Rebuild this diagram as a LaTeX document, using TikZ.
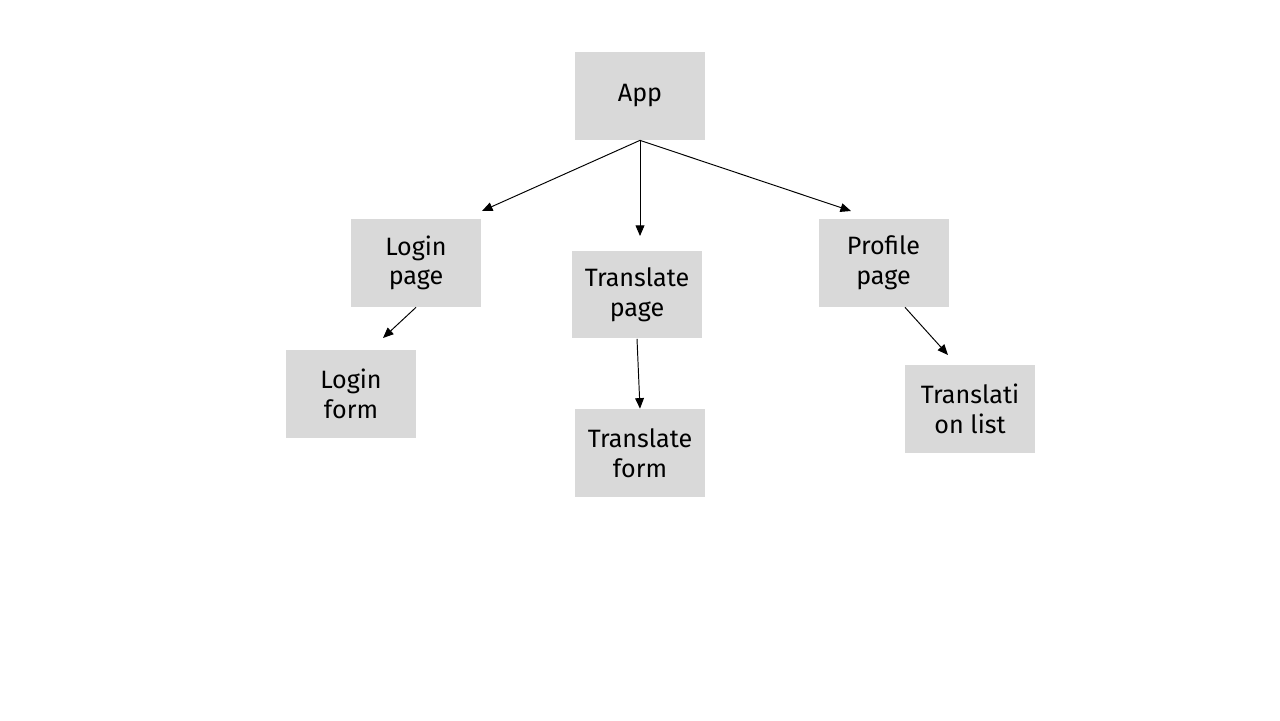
\documentclass[tikz,border=0pt]{standalone}
\usepackage{fontspec}
\setmainfont{Fira Sans}
\usetikzlibrary{positioning,arrows.meta}

\begin{document}
\begin{tikzpicture}[x=0.02cm, y=-0.02cm,
    box/.style = {fill=boxgray, minimum width=2.6cm, minimum height=1.76cm, align=center, inner sep=0pt, font=\fontsize{14.3}{16.8}\selectfont},
    link/.style = {-{Triangle[length=6pt,width=5pt]}, line width=0.55pt}]
            \definecolor{boxgray}{HTML}{D9D9D9}
            \useasboundingbox (0,0) rectangle (1280,720);

            \node[box] (app) at (640, 96) {App};
            \node[box] (loginpage) at (416, 263) {Login\\page};
            \node[box] (transpage) at (637, 294.5) {Translate\\page};
            \node[box] (profpage) at (883.5, 263) {Profile\\page};
            \node[box] (loginform) at (351, 394) {Login\\form};
            \node[box] (transform) at (640, 453) {Translate\\form};
            \node[box] (translist) at (970, 409) {Translati\\on list};

            \coordinate (toLogin) at (482, 211);
            \coordinate (toTrans) at (640, 236);
            \coordinate (toProf) at (851, 211);
            \coordinate (toLoginForm) at (383, 338);
            \coordinate (toList) at (948, 355);

            \draw[link] (app.south) -- (toLogin);
            \draw[link] (app.south) -- (toTrans);
            \draw[link] (app.south) -- (toProf);
            \draw[link] (loginpage.south) -- (toLoginForm);
            \draw[link] (transpage.south) -- (transform.north);
            \draw[link] ([xshift=0.43cm]profpage.south) -- (toList);

        \end{tikzpicture}
\end{document}
